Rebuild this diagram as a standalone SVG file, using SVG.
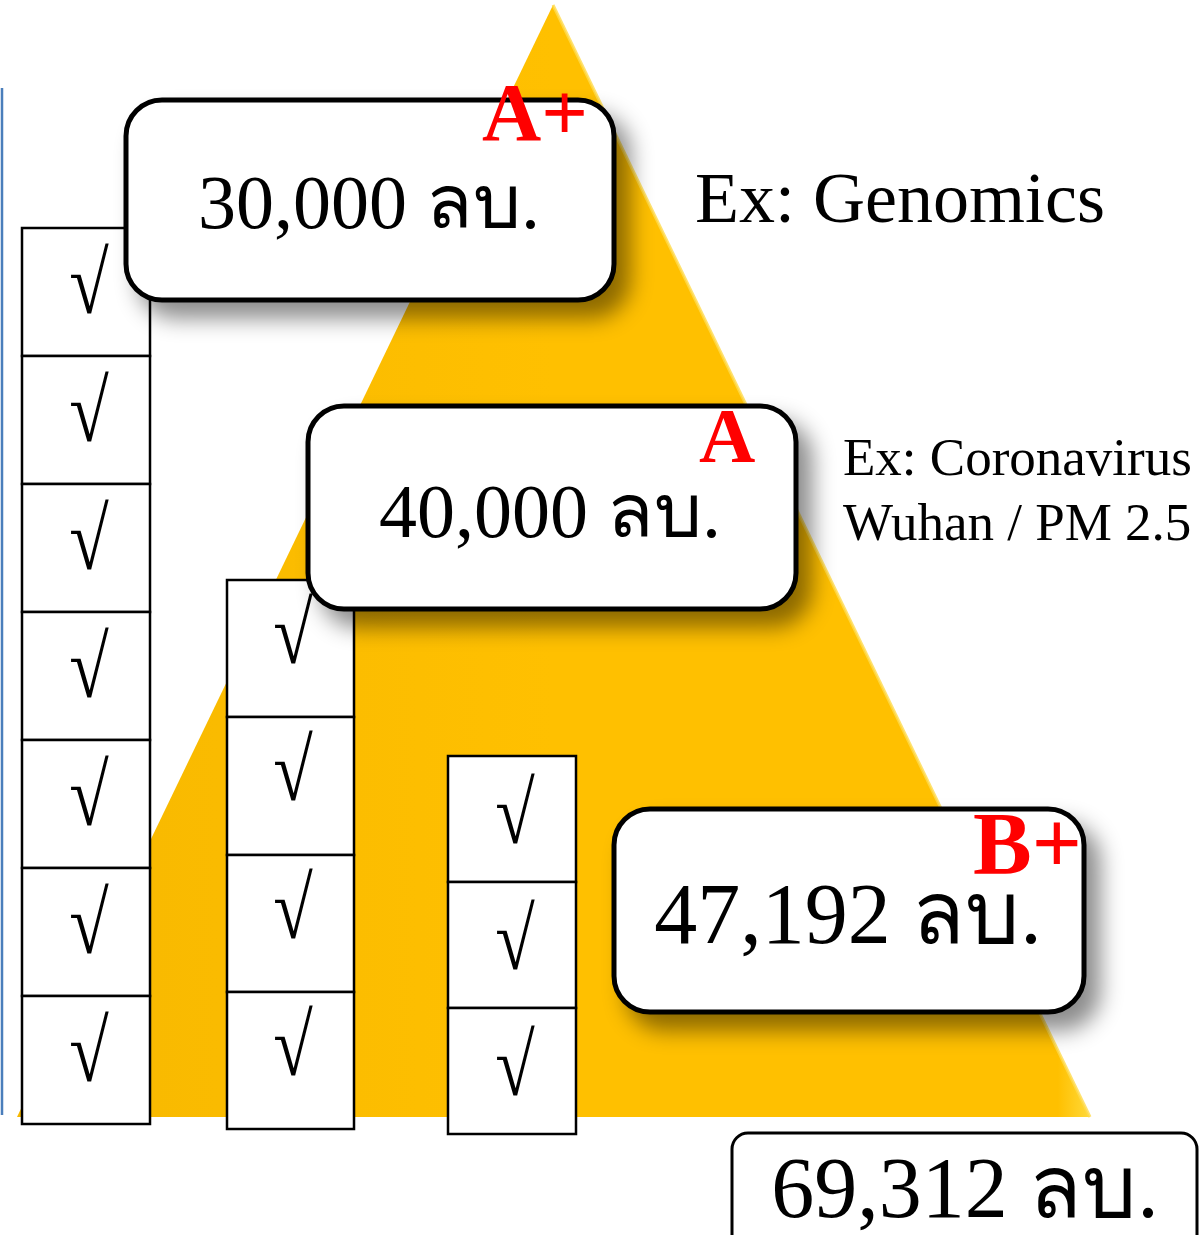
<svg xmlns="http://www.w3.org/2000/svg" width="1199" height="1235" viewBox="0 0 1199 1235">
<defs>
<linearGradient id="gold" x1="0" y1="0" x2="1" y2="0">
<stop offset="0" stop-color="#F7B800"/>
<stop offset="0.5" stop-color="#FFC000"/>
<stop offset="0.97" stop-color="#FFC000"/>
<stop offset="1" stop-color="#FFD93A"/>
</linearGradient>
<filter id="sh" x="-10%" y="-10%" width="130%" height="140%">
<feDropShadow dx="14" dy="16" stdDeviation="11" flood-color="#000" flood-opacity="0.45"/>
</filter>
<style>
.cell{fill:#fff;stroke:#000;stroke-width:2.5}
.chk{font-family:"Liberation Serif","DejaVu Serif",serif;font-size:72px;text-anchor:middle;fill:#000}
.rb{fill:#fff;stroke:#000;stroke-width:5}
.amt{font-family:"Liberation Serif","DejaVu Sans","Noto Sans",serif;fill:#000}
.grade{font-family:"Liberation Serif",serif;font-weight:bold;fill:#FF0000}
.ex{font-family:"Liberation Serif",serif;fill:#000}
</style>
</defs>
<line x1="2" y1="88" x2="2" y2="1115" stroke="#4A7EBB" stroke-width="2.5"/>
<g id="pyramid">
<polygon points="553,5 17,1117 1090,1117" fill="url(#gold)"/>
<line x1="553" y1="5" x2="1090" y2="1117" stroke="#FFDB4D" stroke-width="3" opacity="0.8"/>
</g>
<g id="col1">
<rect class="cell" x="22" y="228" width="128" height="128"/>
<rect class="cell" x="22" y="356" width="128" height="128"/>
<rect class="cell" x="22" y="484" width="128" height="128"/>
<rect class="cell" x="22" y="612" width="128" height="128"/>
<rect class="cell" x="22" y="740" width="128" height="128"/>
<rect class="cell" x="22" y="868" width="128" height="128"/>
<rect class="cell" x="22" y="996" width="128" height="128"/>
<text class="chk" transform="translate(89,313) scale(1,1.22)">√</text>
<text class="chk" transform="translate(89,441) scale(1,1.22)">√</text>
<text class="chk" transform="translate(89,569) scale(1,1.22)">√</text>
<text class="chk" transform="translate(89,697) scale(1,1.22)">√</text>
<text class="chk" transform="translate(89,825) scale(1,1.22)">√</text>
<text class="chk" transform="translate(89,953) scale(1,1.22)">√</text>
<text class="chk" transform="translate(89,1081) scale(1,1.22)">√</text>
</g>
<g id="col2">
<rect class="cell" x="227" y="580" width="127" height="137"/>
<rect class="cell" x="227" y="717" width="127" height="138"/>
<rect class="cell" x="227" y="855" width="127" height="137"/>
<rect class="cell" x="227" y="992" width="127" height="137"/>
<text class="chk" transform="translate(293,663) scale(1,1.22)">√</text>
<text class="chk" transform="translate(293,800) scale(1,1.22)">√</text>
<text class="chk" transform="translate(293,938) scale(1,1.22)">√</text>
<text class="chk" transform="translate(293,1075) scale(1,1.22)">√</text>
</g>
<g id="col3">
<rect class="cell" x="448" y="756" width="128" height="126"/>
<rect class="cell" x="448" y="882" width="128" height="126"/>
<rect class="cell" x="448" y="1008" width="128" height="126"/>
<text class="chk" transform="translate(515,843) scale(1,1.22)">√</text>
<text class="chk" transform="translate(515,969) scale(1,1.22)">√</text>
<text class="chk" transform="translate(515,1095) scale(1,1.22)">√</text>
</g>
<g id="box1">
<rect class="rb" x="126" y="100" width="488" height="200" rx="36" filter="url(#sh)"/>
<text class="amt" x="369" y="228" font-size="76" text-anchor="middle">30,000 ลบ.</text>
<text class="grade" x="482" y="140" font-size="82">A+</text>
</g>
<g id="box2">
<rect class="rb" x="308" y="406" width="488" height="203" rx="36" filter="url(#sh)"/>
<text class="amt" x="550" y="537" font-size="76" text-anchor="middle">40,000 ลบ.</text>
<text class="grade" x="699" y="462" font-size="78">A</text>
</g>
<g id="box3">
<rect class="rb" x="614" y="809" width="470" height="203" rx="36" filter="url(#sh)"/>
<text class="amt" x="848" y="943" font-size="86" text-anchor="middle">47,192 ลบ.</text>
<text class="grade" x="973" y="873" font-size="88">B+</text>
</g>
<g id="box4">
<rect x="732" y="1133" width="465" height="120" rx="16" fill="#fff" stroke="#000" stroke-width="3"/>
<text class="amt" x="965" y="1217" font-size="86" text-anchor="middle">69,312 ลบ.</text>
</g>
<g id="labels">
<text class="ex" x="695" y="222" font-size="72">Ex: Genomics</text>
<text class="ex" x="843" y="475" font-size="53">Ex: Coronavirus</text>
<text class="ex" x="843" y="540" font-size="53">Wuhan / PM 2.5</text>
</g>
</svg>
